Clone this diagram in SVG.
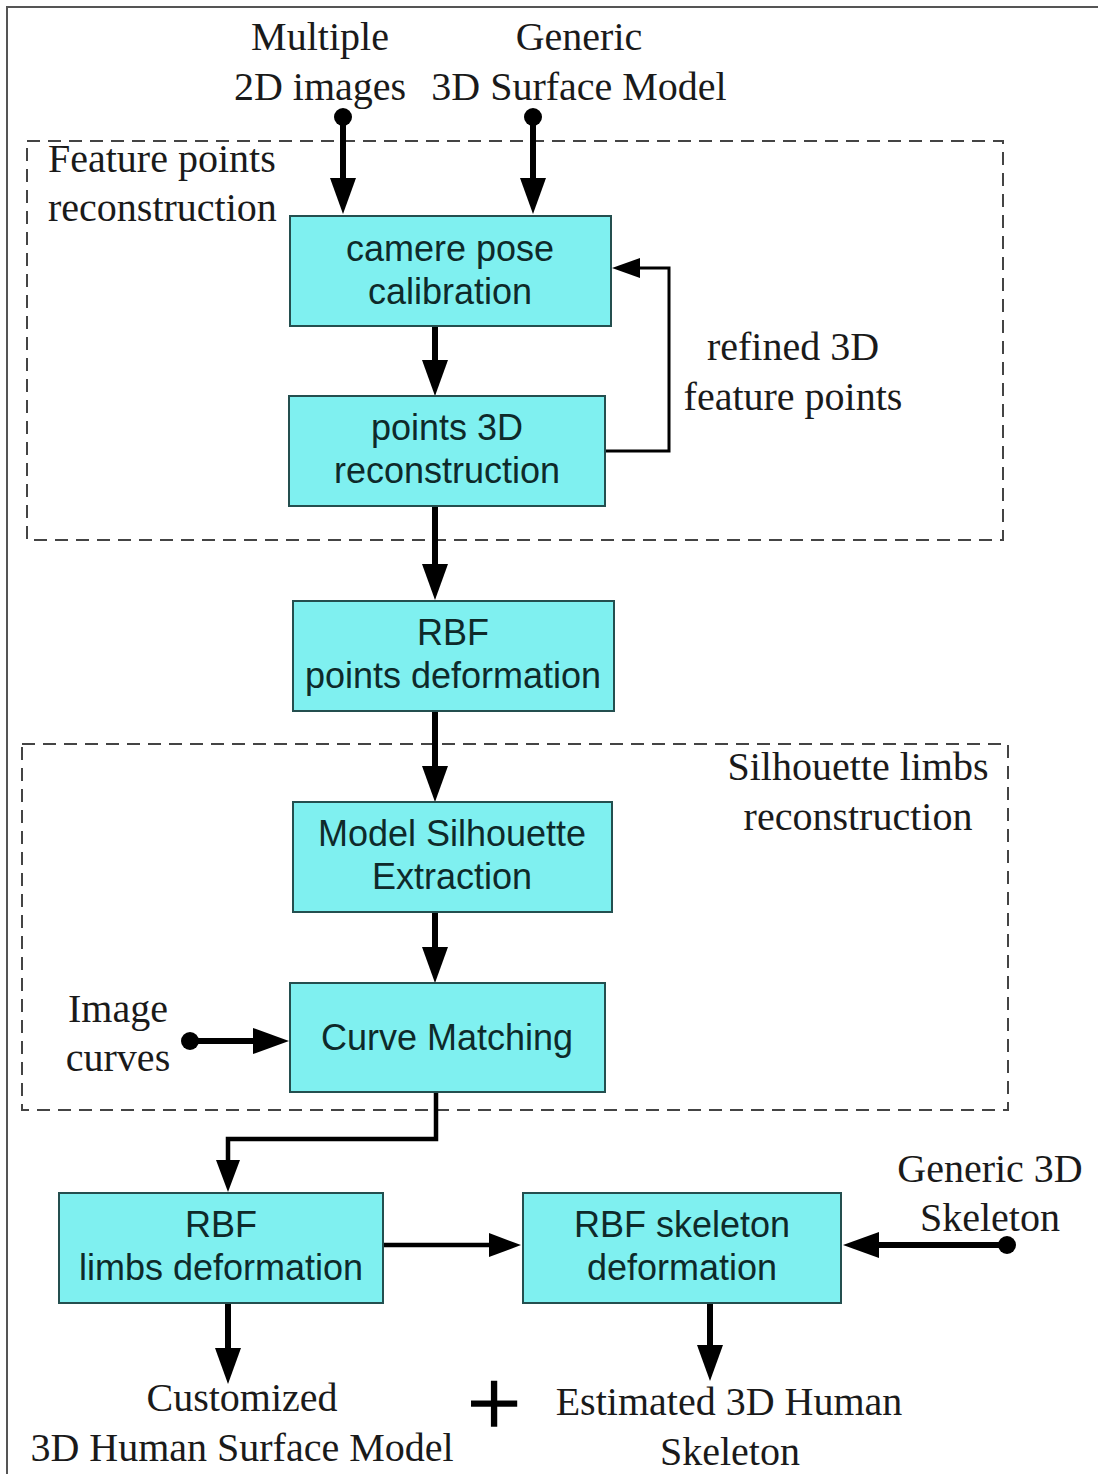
<svg xmlns="http://www.w3.org/2000/svg" width="1098" height="1474" viewBox="0 0 1098 1474">
<style>
.box{fill:#7ff0f0;stroke:#244f4f;stroke-width:2}
.bt{font-family:"Liberation Sans",Arial,sans-serif;font-size:36px;fill:#0e2a2a;text-anchor:middle}
.lt{font-family:"Liberation Serif","Times New Roman",serif;font-size:40px;fill:#1a1a1a}
.c{text-anchor:middle}
.dash{fill:none;stroke:#444;stroke-width:2;stroke-dasharray:13 8}
.thick{fill:none;stroke:#000;stroke-width:6}
.mid{fill:none;stroke:#000;stroke-width:4.5}
.thin{fill:none;stroke:#000;stroke-width:3}
</style>
<defs>
<marker id="big" markerUnits="userSpaceOnUse" markerWidth="36" markerHeight="26" refX="26" refY="13" orient="auto"><path d="M0,0 L36,13 L0,26 z" fill="#000"/></marker>
<marker id="med" markerUnits="userSpaceOnUse" markerWidth="32" markerHeight="24" refX="24" refY="12" orient="auto"><path d="M0,0 L32,12 L0,24 z" fill="#000"/></marker>
<marker id="sm" markerUnits="userSpaceOnUse" markerWidth="28" markerHeight="20" refX="20" refY="10" orient="auto"><path d="M0,0 L28,10 L0,20 z" fill="#000"/></marker>
<marker id="dot" markerUnits="userSpaceOnUse" markerWidth="20" markerHeight="20" refX="10" refY="10"><circle cx="10" cy="10" r="9" fill="#000"/></marker>
</defs>
<rect width="1098" height="1474" fill="#fff"/>
<g id="frame"><path d="M7,1474 V7 H1098" fill="none" stroke="#555" stroke-width="2"/></g>
<g id="group-feature"><rect class="dash" x="27" y="141" width="976" height="399"/>
<text class="lt" x="48" y="172">Feature points</text><text class="lt" x="48" y="221">reconstruction</text></g>
<g id="group-silhouette"><rect class="dash" x="22" y="744" width="986" height="366" stroke="#666"/>
<text class="lt c" x="858" y="780">Silhouette limbs</text><text class="lt c" x="858" y="830">reconstruction</text></g>
<g id="connectors">
<path class="thick" d="M343,117 V204" marker-start="url(#dot)" marker-end="url(#big)"/>
<path class="thick" d="M533,117 V204" marker-start="url(#dot)" marker-end="url(#big)"/>
<path class="thick" d="M435,326 V386" marker-end="url(#big)"/>
<path class="thick" d="M435,506 V590" marker-end="url(#big)"/>
<path class="thick" d="M435,711 V792" marker-end="url(#big)"/>
<path class="thick" d="M435,912 V973" marker-end="url(#big)"/>
<path class="thin" d="M605,451 H669 V268 H620" marker-end="url(#sm)"/>
<path class="thick" d="M190,1041 H279" marker-start="url(#dot)" marker-end="url(#big)"/>
<path class="mid" d="M436,1092 V1139 H228 V1184" marker-end="url(#med)"/>
<path class="mid" d="M383,1245 H513" marker-end="url(#med)"/>
<path class="thick" d="M1007,1245 H853" marker-start="url(#dot)" marker-end="url(#big)"/>
<path class="thick" d="M228,1303 V1374" marker-end="url(#big)"/>
<path class="thick" d="M710,1303 V1371" marker-end="url(#big)"/>
</g>
<g id="in-images"><text class="lt c" x="320" y="50">Multiple</text><text class="lt c" x="320" y="100">2D images</text></g>
<g id="in-model"><text class="lt c" x="579" y="50">Generic</text><text class="lt c" x="579" y="100">3D Surface Model</text></g>
<g id="camera"><rect class="box" x="290" y="216" width="321" height="110"/><text class="bt" x="450" y="261">camere pose</text><text class="bt" x="450" y="304">calibration</text></g>
<g id="points3d"><rect class="box" x="289" y="396" width="316" height="110"/><text class="bt" x="447" y="440">points 3D</text><text class="bt" x="447" y="483">reconstruction</text></g>
<g id="refined-label"><text class="lt c" x="793" y="360">refined 3D</text><text class="lt c" x="793" y="410">feature points</text></g>
<g id="rbf-points"><rect class="box" x="293" y="601" width="321" height="110"/><text class="bt" x="453" y="645">RBF</text><text class="bt" x="453" y="688">points deformation</text></g>
<g id="silhouette"><rect class="box" x="293" y="802" width="319" height="110"/><text class="bt" x="452" y="846">Model Silhouette</text><text class="bt" x="452" y="889">Extraction</text></g>
<g id="curve"><rect class="box" x="290" y="983" width="315" height="109"/><text class="bt" x="447" y="1050">Curve Matching</text></g>
<g id="in-curves"><text class="lt c" x="118" y="1022">Image</text><text class="lt c" x="118" y="1071">curves</text></g>
<g id="rbf-limbs"><rect class="box" x="59" y="1193" width="324" height="110"/><text class="bt" x="221" y="1237">RBF</text><text class="bt" x="221" y="1280">limbs deformation</text></g>
<g id="rbf-skeleton"><rect class="box" x="523" y="1193" width="318" height="110"/><text class="bt" x="682" y="1237">RBF skeleton</text><text class="bt" x="682" y="1280">deformation</text></g>
<g id="in-skeleton"><text class="lt c" x="990" y="1182">Generic 3D</text><text class="lt c" x="990" y="1231">Skeleton</text></g>
<g id="out-surface"><text class="lt c" x="242" y="1411">Customized</text><text class="lt c" x="242" y="1461">3D Human Surface Model</text></g>
<g id="plus"><text x="494" y="1435" font-family="Liberation Serif,serif" font-size="96" text-anchor="middle" fill="#000" stroke="#000" stroke-width="1.5">+</text></g>
<g id="out-skeleton"><text class="lt c" x="729" y="1415">Estimated 3D Human</text><text class="lt c" x="730" y="1465">Skeleton</text></g>
</svg>
